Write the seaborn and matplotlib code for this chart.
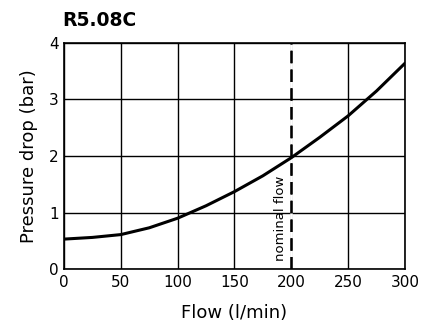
import matplotlib
matplotlib.use("Agg")
import matplotlib.pyplot as plt
import seaborn as sns
import pandas as pd

# Kennlinie R5.08C
flow = [0, 25, 50, 75, 100, 125, 150, 175, 200, 225, 250, 275, 300]
pressure = [0.53, 0.56, 0.61, 0.73, 0.90, 1.12, 1.37, 1.65, 1.97, 2.33, 2.71, 3.15, 3.64]
nominal_flow = 200
x_ticks = [0, 50, 100, 150, 200, 250, 300]
y_ticks = [0, 1, 2, 3, 4]

df = pd.DataFrame({"flow": flow, "pressure": pressure})

sns.set_style("white")
plt.rcParams["font.family"] = ["DejaVu Sans"]
plt.rcParams["text.color"] = "black"
plt.rcParams["axes.labelcolor"] = "black"
plt.rcParams["xtick.color"] = "black"
plt.rcParams["ytick.color"] = "black"

fig = plt.figure(figsize=(4.24, 3.33), dpi=100)
ax = fig.add_axes([0.151, 0.192, 0.804, 0.679])

ax.grid(True, color="black", linewidth=1.0)
ax.set_axisbelow(True)
# gestrichelte Linie ueber der Gitterlinie, Luecken weiss
ax.axvline(nominal_flow, color="black", gapcolor="white", linestyle=(0, (5, 2.5)),
           linewidth=1.8, zorder=3)
sns.lineplot(data=df, x="flow", y="pressure", color="black", linewidth=2.2,
             zorder=4, ax=ax)
ax.text(nominal_flow - 4, 0.15, "nominal flow", rotation=90, ha="right", va="bottom",
        fontsize=9.5)

ax.set_xlim(x_ticks[0], x_ticks[-1])
ax.set_ylim(y_ticks[0], y_ticks[-1])
ax.set_xticks(x_ticks)
ax.set_yticks(y_ticks)
ax.tick_params(length=0, labelsize=11, pad=4)
for s in ax.spines.values():
    s.set_color("black")
    s.set_linewidth(1.2)
    s.set_zorder(5)

ax.set_xlabel("Flow (l/min)", fontsize=13, labelpad=10)
ax.set_ylabel("Pressure drop (bar)", fontsize=13, labelpad=8)
fig.text(62 / 424, 1 - 20 / 333, "R5.08C", fontsize=13.5, fontweight="bold",
         ha="left", va="center")

plt.savefig("out.png")
plt.close()
